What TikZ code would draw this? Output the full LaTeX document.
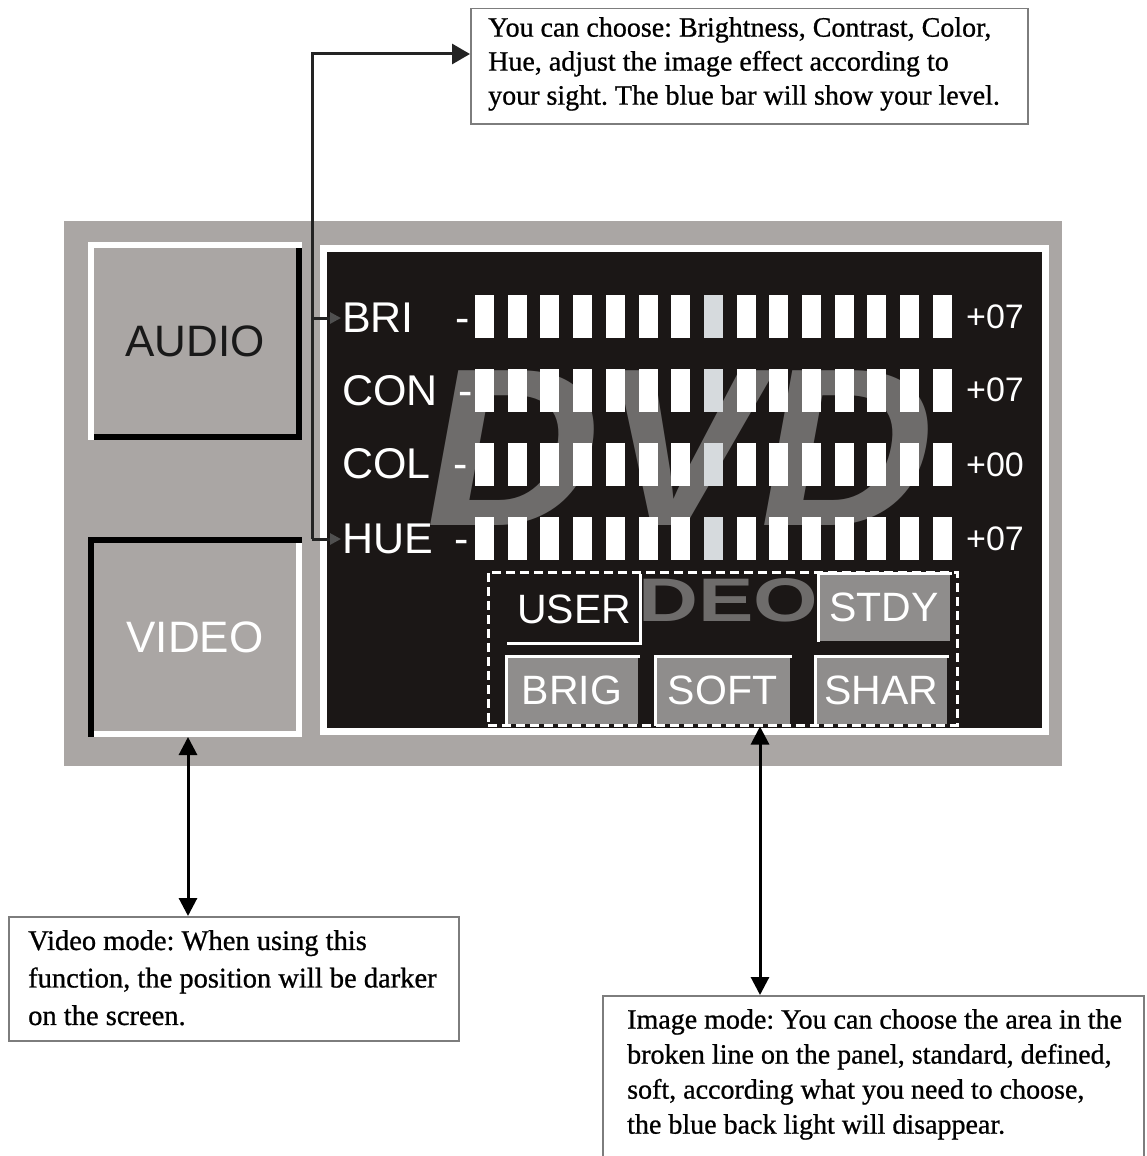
\documentclass[tikz,border=0pt]{standalone}
\usepackage{fontspec}
\setmainfont{Liberation Serif}
\newfontfamily\notefont{Liberation Serif}[FakeBold=0.8]
\newfontfamily\arialfont{Liberation Sans}
\usetikzlibrary{arrows.meta,calc}
\definecolor{panelgray}{RGB}{170,166,164}
\definecolor{screenblack}{RGB}{27,23,22}
\definecolor{btngray}{RGB}{143,141,140}
\definecolor{markgray}{RGB}{110,108,107}
\definecolor{levelbar}{RGB}{214,218,221}
\definecolor{boxline}{RGB}{125,125,125}
\definecolor{linedark}{RGB}{35,35,35}
\definecolor{tipgray}{RGB}{80,80,80}
\definecolor{darktext}{RGB}{25,25,25}
\tikzset{
  note/.style={draw=boxline, line width=1.5pt, fill=white, inner sep=0pt, anchor=north west},
  notetext/.style={inner sep=0pt, align=left, anchor=north west, font=\notefont\fontsize{28}{34}\selectfont\frenchspacing},
  sidebtn/.style={fill=panelgray, inner sep=0pt, outer sep=0pt, minimum width=208pt, minimum height=192pt, font=\arialfont\fontsize{44}{44}\selectfont},
  bevel/.style={line width=6pt, line cap=rect},
  rowlbl/.style={text=white, inner sep=1pt, anchor=west, font=\arialfont\fontsize{43}{43}\selectfont},
  rowval/.style={text=white, inner sep=0pt, anchor=west, font=\arialfont\fontsize{34}{34}\selectfont},
  modebtn/.style={fill=btngray, inner sep=0pt, outer sep=0pt, minimum width=132pt, minimum height=68pt, text=white, font=\arialfont\fontsize{41}{41}\selectfont},
  hilite/.style={white, line width=3pt, line cap=rect},
  conn/.style={draw=linedark, line width=3pt},
  bigtip/.style={-{Triangle[length=18pt,width=20pt]}},
  dbl/.style={draw=black, line width=3pt, {Triangle[length=18pt,width=18pt]}-{Triangle[length=18pt,width=18pt]}},
  smalltip/.style={-{Triangle[length=11pt,width=11pt,color=tipgray]}},
}
\begin{document}
\begin{tikzpicture}[x=1pt,y=-1pt]
\useasboundingbox (0,0) rectangle (1146,1156);
\fill[white] (0,0) rectangle (1146,1156);

% outer panel and screen
\node[fill=panelgray, inner sep=0pt, outer sep=0pt, minimum width=998pt, minimum height=545pt, anchor=north west] (panel) at (64,221) {};
\node[fill=screenblack, draw=white, line width=7pt, inner sep=0pt, outer sep=0pt, minimum width=722pt, minimum height=483.5pt, anchor=north west] (screen) at (323.5,248) {};

% watermark
\node[anchor=base west, inner sep=0pt, text=markgray, xscale=1.07, xslant=0.17, font=\arialfont\bfseries\fontsize{225}{225}\selectfont] (dvdmark) at (414,525) {DVD};
\node[anchor=base west, inner sep=0pt, text=markgray, xscale=1.35, font=\arialfont\bfseries\fontsize{61.5}{61.5}\selectfont] (videomark) at (638,621) {DEO};

% level bars
\foreach \r in {316,390,464,538}{
  \foreach \i in {0,...,14}{
    \fill[white] ({475+32.7*\i},{\r-21.5}) rectangle ++(19,43);
  }
  \fill[levelbar] ({475+32.7*7},{\r-21.5}) rectangle ++(19,43);
}

% row labels
\node[rowlbl] (bri) at (341,318) {\makebox[128pt][l]{BRI\hfill-}};
\node[rowlbl] (con) at (341,391) {\makebox[131pt][l]{CON\hfill-}};
\node[rowlbl] (col) at (341,464) {\makebox[126pt][l]{COL\hfill-}};
\node[rowlbl] (hue) at (341,539) {\makebox[127pt][l]{HUE\hfill-}};
\node[rowval] (vbri) at (966,317) {+07};
\node[rowval] (vcon) at (966,390) {+07};
\node[rowval] (vcol) at (966,465) {+00};
\node[rowval] (vhue) at (966,539) {+07};

% mode buttons
\node[modebtn, fill=screenblack, minimum width=132pt] (user) at (574,609) {USER};
\draw[hilite] (user.north east) -- (user.south east) -- (user.south west);
\node[modebtn, minimum width=132pt, minimum height=67pt] (stdy) at (884,607) {STDY};
\draw[hilite] (stdy.south west) -- (stdy.north west) -- (stdy.north east);
\node[modebtn] (brig) at (572,690) {BRIG};
\draw[hilite] (brig.south west) -- (brig.north west) -- (brig.north east);
\node[modebtn, minimum width=135pt] (soft) at (722.5,690) {SOFT};
\draw[hilite] (soft.south west) -- (soft.north west) -- (soft.north east);
\node[modebtn] (shar) at (881,690) {SHAR};
\draw[hilite] (shar.south west) -- (shar.north west) -- (shar.north east);
\node[draw=white, line width=3pt, dash pattern=on 9pt off 5pt, inner sep=0pt, outer sep=0pt, minimum width=469pt, minimum height=153pt, anchor=north west] (modes) at (488,572) {};

% side buttons
\node[sidebtn, text=darktext] (audio) at (195,341) {AUDIO};
\draw[bevel, black] (audio.north east) -- (audio.south east) -- (audio.south west);
\draw[bevel, white] (audio.south west) -- (audio.north west) -- (audio.north east);
\node[sidebtn, text=white, minimum height=194pt] (video) at (195,637) {VIDEO};
\draw[bevel, white] (video.north east) -- (video.south east) -- (video.south west);
\draw[bevel, black] (video.south west) -- (video.north west) -- (video.north east);

% notes
\node[note, minimum width=557pt, minimum height=115pt] (topbox) at (470,8) {};
\node[notetext] (toptext) at (488,17) {You can choose: Brightness, Contrast, Color,\\Hue, adjust the image effect according to\\your sight. The blue bar will show your level.};
\node[note, minimum width=450pt, minimum height=124pt] (vidbox) at (8,916) {};
\node[notetext, font=\notefont\fontsize{28.5}{37.5}\selectfont\frenchspacing] (vidtext) at (28,930) {Video mode: When using this\\function, the position will be darker\\on the screen.};
\node[note, minimum width=541pt, minimum height=180pt] (imgbox) at (602,995) {};
\node[notetext, font=\notefont\fontsize{28}{35}\selectfont\frenchspacing] (imgtext) at (627,1009) {Image mode: You can choose the area in the\\broken line on the panel, standard, defined,\\soft, according what you need to choose,\\the blue back light will disappear.};

% connectors
\coordinate (bx) at (312,0);
\coordinate (topin) at ($(topbox.north west)+(0,46)$);
\draw[conn, bigtip] (bx |- hue.west) -- (bx |- topin) -- (topin);
\draw[conn, smalltip] (bx |- bri.west) -- (bri.west);
\draw[conn, smalltip] (bx |- hue.west) -- (hue.west);

\coordinate (va) at (188,0);
\draw[dbl] ($(video.south -| va)+(0,3)$) -- (vidbox.north -| va);
\coordinate (ia) at (760,0);
\draw[dbl] ($(modes.south -| ia)+(0,1.5)$) -- (imgbox.north -| ia);
\end{tikzpicture}
\end{document}
